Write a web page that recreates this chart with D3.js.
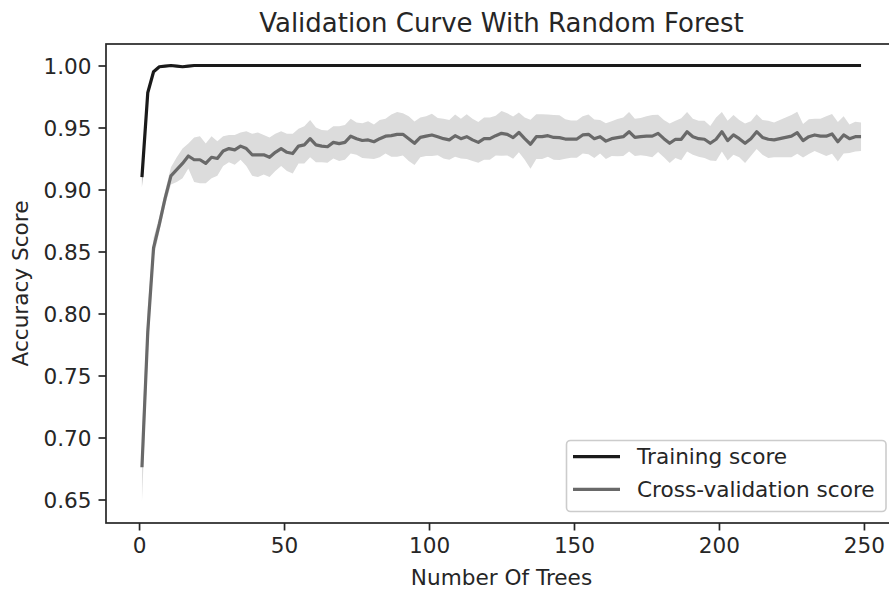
<!DOCTYPE html>
<html>
<head>
<meta charset="utf-8">
<script src="https://cdn.jsdelivr.net/npm/d3@7"></script>
<style>
  html, body { margin: 0; padding: 0; background: #fff; }
  svg { display: block; font-family: "DejaVu Sans", sans-serif; }
</style>
</head>
<body>
<svg id="chart" width="889" height="589"></svg>
<script>
// ---- data ----
const title = "Validation Curve With Random Forest";
const xLabel = "Number Of Trees";
const yLabel = "Accuracy Score";
const xTicks = [0, 50, 100, 150, 200, 250];
const yTicks = [0.65, 0.70, 0.75, 0.80, 0.85, 0.90, 0.95, 1.00];
const seriesNames = ["Training score", "Cross-validation score"];

// number of trees: 1, 3, 5, ..., 249
const paramRange = d3.range(1, 250, 2);

const trainMean = [
  0.910, 0.978, 0.995, 0.999, 0.9995, 1.000, 0.9995, 0.999, 0.9995, 1.000,
  1.000, 1.000, 1.000, 1.000, 1.000, 1.000, 1.000, 1.000, 1.000, 1.000,
  1.000, 1.000, 1.000, 1.000, 1.000, 1.000, 1.000, 1.000, 1.000, 1.000,
  1.000, 1.000, 1.000, 1.000, 1.000, 1.000, 1.000, 1.000, 1.000, 1.000,
  1.000, 1.000, 1.000, 1.000, 1.000, 1.000, 1.000, 1.000, 1.000, 1.000,
  1.000, 1.000, 1.000, 1.000, 1.000, 1.000, 1.000, 1.000, 1.000, 1.000,
  1.000, 1.000, 1.000, 1.000, 1.000, 1.000, 1.000, 1.000, 1.000, 1.000,
  1.000, 1.000, 1.000, 1.000, 1.000, 1.000, 1.000, 1.000, 1.000, 1.000,
  1.000, 1.000, 1.000, 1.000, 1.000, 1.000, 1.000, 1.000, 1.000, 1.000,
  1.000, 1.000, 1.000, 1.000, 1.000, 1.000, 1.000, 1.000, 1.000, 1.000,
  1.000, 1.000, 1.000, 1.000, 1.000, 1.000, 1.000, 1.000, 1.000, 1.000,
  1.000, 1.000, 1.000, 1.000, 1.000, 1.000, 1.000, 1.000, 1.000, 1.000,
  1.000, 1.000, 1.000, 1.000, 1.000
];
const trainStd = [
  0.008, 0.003, 0.001, 0.000, 0.000, 0.000, 0.000, 0.000, 0.000, 0.000,
  0.000, 0.000, 0.000, 0.000, 0.000, 0.000, 0.000, 0.000, 0.000, 0.000,
  0.000, 0.000, 0.000, 0.000, 0.000, 0.000, 0.000, 0.000, 0.000, 0.000,
  0.000, 0.000, 0.000, 0.000, 0.000, 0.000, 0.000, 0.000, 0.000, 0.000,
  0.000, 0.000, 0.000, 0.000, 0.000, 0.000, 0.000, 0.000, 0.000, 0.000,
  0.000, 0.000, 0.000, 0.000, 0.000, 0.000, 0.000, 0.000, 0.000, 0.000,
  0.000, 0.000, 0.000, 0.000, 0.000, 0.000, 0.000, 0.000, 0.000, 0.000,
  0.000, 0.000, 0.000, 0.000, 0.000, 0.000, 0.000, 0.000, 0.000, 0.000,
  0.000, 0.000, 0.000, 0.000, 0.000, 0.000, 0.000, 0.000, 0.000, 0.000,
  0.000, 0.000, 0.000, 0.000, 0.000, 0.000, 0.000, 0.000, 0.000, 0.000,
  0.000, 0.000, 0.000, 0.000, 0.000, 0.000, 0.000, 0.000, 0.000, 0.000,
  0.000, 0.000, 0.000, 0.000, 0.000, 0.000, 0.000, 0.000, 0.000, 0.000,
  0.000, 0.000, 0.000, 0.000, 0.000
];

const testMean = [
  // 1 .. 19
  0.676, 0.785, 0.853, 0.872, 0.893, 0.911, 0.916, 0.921, 0.927, 0.924,
  // 21 .. 39
  0.924, 0.921, 0.926, 0.925, 0.931, 0.933, 0.932, 0.935, 0.933, 0.928,
  // 41 .. 59
  0.928, 0.928, 0.926, 0.930, 0.933, 0.930, 0.929, 0.935, 0.936, 0.941,
  // 61 .. 79
  0.936, 0.935, 0.9345, 0.938, 0.937, 0.938, 0.943, 0.941, 0.9395, 0.940,
  // 81 .. 99
  0.9385, 0.941, 0.943, 0.9435, 0.9445, 0.9445, 0.941, 0.9373, 0.942, 0.943,
  // 101 .. 119
  0.944, 0.9426, 0.941, 0.940, 0.9434, 0.941, 0.9426, 0.940, 0.938, 0.941,
  // 121 .. 139
  0.941, 0.9434, 0.9453, 0.9445, 0.9418, 0.946, 0.941, 0.9365, 0.9426, 0.9426,
  // 141 .. 159
  0.9434, 0.942, 0.9418, 0.9407, 0.9407, 0.9407, 0.944, 0.9445, 0.941, 0.9426,
  // 161 .. 179
  0.939, 0.941, 0.9418, 0.9426, 0.9466, 0.942, 0.9426, 0.943, 0.943, 0.9453,
  // 181 .. 199
  0.941, 0.9373, 0.9405, 0.9405, 0.9466, 0.9426, 0.941, 0.9405, 0.9373, 0.9405,
  // 201 .. 219
  0.9466, 0.9394, 0.944, 0.941, 0.9373, 0.941, 0.9466, 0.942, 0.9405, 0.940,
  // 221 .. 239
  0.941, 0.942, 0.943, 0.9458, 0.9394, 0.9426, 0.944, 0.943, 0.943, 0.9448,
  // 241 .. 249
  0.9385, 0.944, 0.941, 0.9426, 0.9426
];
const testStd = [
  0.028, 0.020, 0.008, 0.006, 0.006, 0.007, 0.010, 0.012, 0.010, 0.018,
  0.019, 0.016, 0.017, 0.014, 0.012, 0.011, 0.012, 0.011, 0.014, 0.017,
  0.018, 0.016, 0.016, 0.015, 0.014, 0.015, 0.016, 0.014, 0.015, 0.015,
  0.014, 0.013, 0.013, 0.013, 0.014, 0.014, 0.014, 0.013, 0.014, 0.015,
  0.014, 0.015, 0.014, 0.017, 0.018, 0.017, 0.018, 0.0175, 0.016, 0.016,
  0.017, 0.015, 0.016, 0.016, 0.017, 0.016, 0.018, 0.017, 0.0165, 0.017,
  0.017, 0.016, 0.018, 0.017, 0.017, 0.016, 0.017, 0.0197, 0.018, 0.018,
  0.017, 0.018, 0.018, 0.016, 0.015, 0.015, 0.015, 0.016, 0.0155, 0.0135,
  0.0145, 0.014, 0.015, 0.0155, 0.016, 0.015, 0.015, 0.016, 0.017, 0.015,
  0.015, 0.016, 0.015, 0.017, 0.016, 0.0145, 0.0145, 0.015, 0.014, 0.0175,
  0.016, 0.016, 0.016, 0.015, 0.016, 0.014, 0.014, 0.014, 0.015, 0.014,
  0.015, 0.016, 0.017, 0.017, 0.0135, 0.014, 0.013, 0.014, 0.016, 0.016,
  0.016, 0.015, 0.0115, 0.012, 0.0115
];

// ---- layout ----
const svg = d3.select("#chart");
const padL = 106, padR = 897, padT = 44, padB = 523;
const fs = 21.6;

const x = d3.scaleLinear().domain([-11.4, 261.4]).range([padL, padR]);
const y = d3.scaleLinear().domain([0.63105, 1.01734]).range([padB, padT]);

svg.append("defs").append("clipPath").attr("id", "plotclip")
  .append("rect").attr("x", padL).attr("y", padT)
  .attr("width", padR - padL).attr("height", padB - padT);

const plot = svg.append("g").attr("clip-path", "url(#plotclip)");

const trainData = paramRange.map((p, i) => ({p, m: trainMean[i], s: trainStd[i]}));
const testData = paramRange.map((p, i) => ({p, m: testMean[i], s: testStd[i]}));

const band = d3.area().x(d => x(d.p)).y0(d => y(d.m - d.s)).y1(d => y(d.m + d.s));
const line = d3.line().x(d => x(d.p)).y(d => y(d.m));

plot.append("path").datum(trainData).attr("d", band).attr("fill", "#808080");
plot.append("path").datum(testData).attr("d", band).attr("fill", "#dcdcdc");

plot.append("path").datum(trainData).attr("d", line)
  .attr("fill", "none").attr("stroke", "#1a1a1a").attr("stroke-width", 3.2)
  .attr("stroke-linejoin", "round");
plot.append("path").datum(testData).attr("d", line)
  .attr("fill", "none").attr("stroke", "#696969").attr("stroke-width", 3.2)
  .attr("stroke-linejoin", "round");

// ---- axes ----
const axisColor = "#262626";
const xAxis = d3.axisBottom(x).tickValues(xTicks).tickSize(7.5).tickPadding(7).tickFormat(d3.format("d"));
const yAxis = d3.axisLeft(y).tickValues(yTicks).tickSize(7.5).tickPadding(7).tickFormat(d3.format(".2f"));

const gx = svg.append("g").attr("transform", `translate(0,${padB})`).call(xAxis);
const gy = svg.append("g").attr("transform", `translate(${padL},0)`).call(yAxis);
[gx, gy].forEach(g => {
  g.select(".domain").remove();
  g.selectAll(".tick line").attr("stroke", axisColor).attr("stroke-width", 1.7);
  g.selectAll(".tick text").attr("fill", axisColor)
    .style("font-family", "DejaVu Sans").style("font-size", fs + "px");
});
gy.selectAll(".tick text").attr("dy", "0.36em");

// spines (right one falls outside the picture)
svg.append("rect").attr("x", padL).attr("y", padT)
  .attr("width", padR - padL).attr("height", padB - padT)
  .attr("fill", "none").attr("stroke", axisColor).attr("stroke-width", 1.7);

// ---- texts ----
svg.append("text").attr("x", (padL + padR) / 2).attr("y", 32)
  .attr("text-anchor", "middle").attr("fill", axisColor)
  .style("font-size", "26px").text(title);

svg.append("text").attr("x", (padL + padR) / 2).attr("y", 585)
  .attr("text-anchor", "middle").attr("fill", axisColor)
  .style("font-size", fs + "px").text(xLabel);

svg.append("text")
  .attr("transform", `translate(28,${(padT + padB) / 2}) rotate(-90)`)
  .attr("text-anchor", "middle").attr("fill", axisColor)
  .style("font-size", fs + "px").text(yLabel);

// ---- legend ----
const lg = svg.append("g");
lg.append("rect").attr("x", 566.5).attr("y", 440.5).attr("width", 319.5).attr("height", 71)
  .attr("rx", 4).attr("fill", "rgba(255,255,255,0.8)")
  .attr("stroke", "#cccccc").attr("stroke-width", 1.6);
const legendColors = ["#1a1a1a", "#696969"];
const legendY = [456.7, 489.3];
seriesNames.forEach((name, i) => {
  lg.append("line").attr("x1", 573).attr("x2", 620)
    .attr("y1", legendY[i]).attr("y2", legendY[i])
    .attr("stroke", legendColors[i]).attr("stroke-width", 3.2);
  lg.append("text").attr("x", 637).attr("y", legendY[i]).attr("dy", "0.36em")
    .attr("fill", axisColor).style("font-size", fs + "px").text(name);
});
</script>
</body>
</html>
